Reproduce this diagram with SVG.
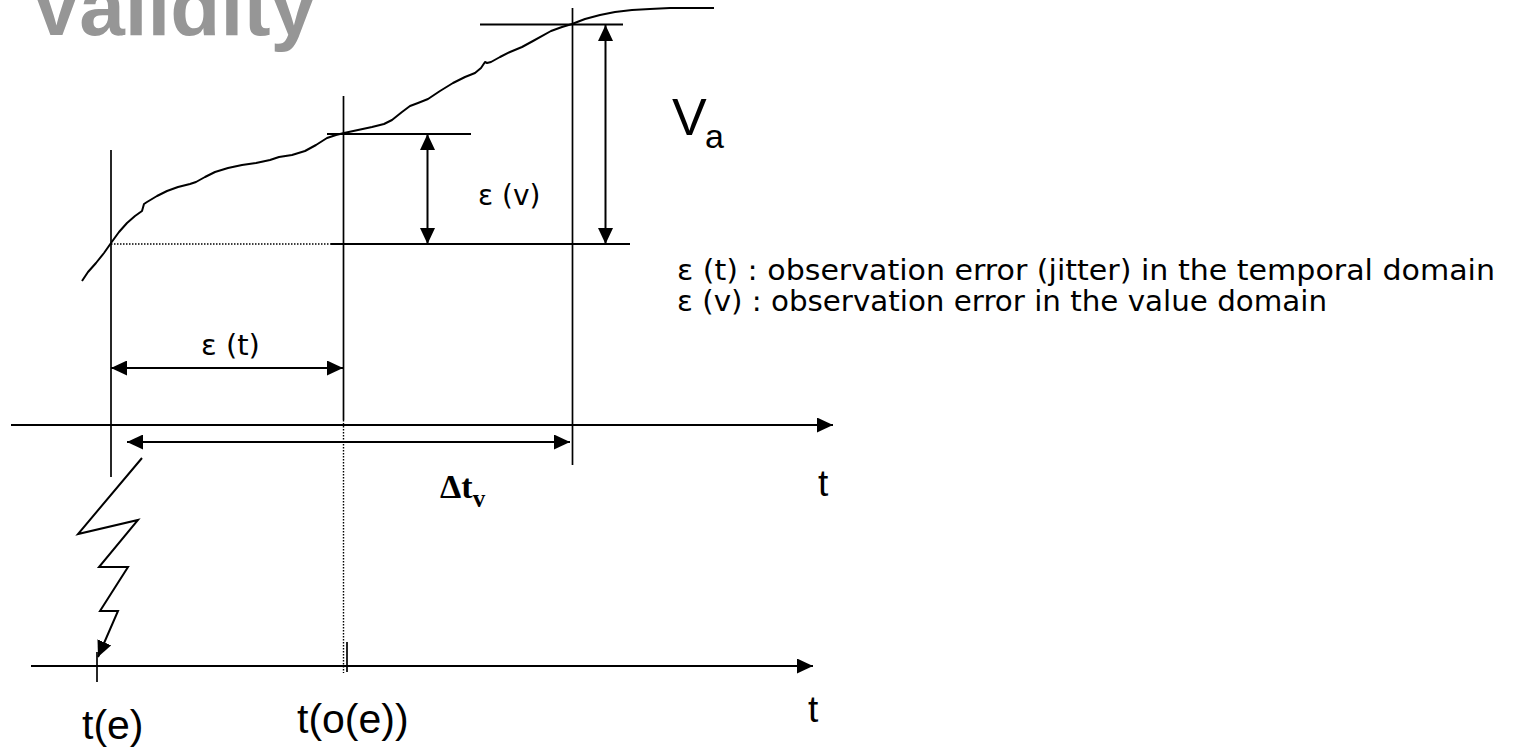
<svg xmlns="http://www.w3.org/2000/svg" width="1519" height="747" viewBox="0 0 1519 747">
<style>
.ln{stroke:#000;stroke-width:2;fill:none}
.thin{stroke:#000;stroke-width:1.7;fill:none}
.dot{stroke:#000;stroke-width:1.4;fill:none;stroke-dasharray:1.5 1.5}
.lab{font-family:"Liberation Sans",Arial,sans-serif;fill:#000}
.cs{font-family:"Comic Sans MS","DejaVu Sans",sans-serif;fill:#000}
.ser{font-family:"Liberation Serif","Times New Roman",serif;font-weight:bold;fill:#000}
</style>
<defs>
<marker id="ah" viewBox="0 0 16 15" refX="16" refY="7.5" markerWidth="16" markerHeight="15" markerUnits="userSpaceOnUse" orient="auto-start-reverse"><path d="M0,0 L16,7.5 L0,15 z" fill="#000"/></marker>
</defs>
<rect width="1519" height="747" fill="#fff"/>
<g id="title"><text x="29" y="35" font-family="Liberation Sans,Arial,sans-serif" font-weight="bold" font-size="82" fill="#969696">Validity</text></g>
<g id="curve">
<path class="ln" stroke-width="1.8" stroke-linejoin="round" d="M82,281 L88,272 L96,263 L104,253 L111,243 L119,232 L127,223 L135,216 L142,211 L144,204 L147,202 L157,196 L167,191 L178,187 L190,184 L196,182 L205,177 L215,172 L228,168 L242,165 L256,163 L270,160 L279,157 L292,155 L305,151 L316,145 L327,138 L336,135 L344,133 L358,130 L372,127 L384,124 L392,120 L402,112 L410,106 L418,103 L428,99 L440,91 L453,83 L465,77 L475,73 L481,68 L485,62 L487,63 L491,62 L500,57 L510,52 L522,47 L533,41 L551,31 L562,27 L572,24 L585,19 L600,15 L615,12 L632,10 L650,9 L670,8 L714,8"/>
</g>
<g id="connectors">
<line class="thin" x1="111" y1="150" x2="111" y2="477"/>
<line class="thin" x1="343.5" y1="96" x2="343.5" y2="420"/>
<line class="dot" x1="343.5" y1="420" x2="343.5" y2="673"/>
<line class="thin" x1="572.5" y1="8" x2="572.5" y2="465"/>
<line class="ln" x1="480" y1="24.5" x2="623" y2="24.5"/>
<line class="ln" x1="327" y1="134" x2="471" y2="134"/>
<line class="ln" x1="331" y1="244" x2="630" y2="244"/>
<line class="dot" x1="111" y1="244" x2="331" y2="244"/>
<line class="ln" x1="427.5" y1="134" x2="427.5" y2="244" marker-start="url(#ah)" marker-end="url(#ah)"/>
<line class="ln" x1="605.5" y1="25" x2="605.5" y2="244" marker-start="url(#ah)" marker-end="url(#ah)"/>
<line class="ln" x1="111" y1="368" x2="343" y2="368" marker-start="url(#ah)" marker-end="url(#ah)"/>
<line class="ln" x1="127" y1="442" x2="570" y2="442" marker-start="url(#ah)" marker-end="url(#ah)"/>
<line class="ln" x1="11" y1="425" x2="833" y2="425" marker-end="url(#ah)"/>
<line class="ln" x1="31" y1="666" x2="813" y2="666" marker-end="url(#ah)"/>
<line class="thin" x1="97" y1="652" x2="97" y2="682"/>
<line class="thin" x1="347" y1="642" x2="347" y2="672"/>
<polyline class="ln" stroke-linejoin="miter" points="142,458 78,534 138,520 99,567 128,567 100,611 118,611 98,657" marker-end="url(#ah)"/>
</g>
<g id="labels">
<text class="lab" x="672" y="135" font-size="52">V</text>
<text class="lab" x="705" y="148" font-size="34">a</text>
<text class="cs" x="478" y="205" font-size="28">ε (v)</text>
<text class="cs" x="201" y="355" font-size="29">ε (t)</text>
<text class="ser" x="440" y="498" font-size="34">Δt<tspan font-size="25" dy="9">v</tspan></text>
<text class="lab" x="818" y="496" font-size="37">t</text>
<text class="lab" x="808" y="722" font-size="37">t</text>
<text class="lab" x="82" y="739" font-size="41">t(e)</text>
<text class="lab" x="297" y="733" font-size="41">t(o(e))</text>
<text class="cs" x="677" y="280" font-size="28" textLength="818" lengthAdjust="spacingAndGlyphs">ε (t) : observation error (jitter) in the temporal domain</text>
<text class="cs" x="677" y="311" font-size="28" textLength="650" lengthAdjust="spacingAndGlyphs">ε (v) : observation error in the value domain</text>
</g>
</svg>
